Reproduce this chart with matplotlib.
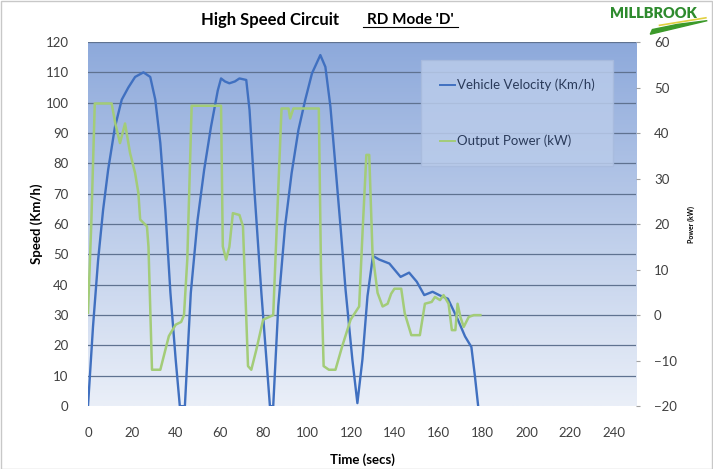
import numpy as np
import matplotlib.pyplot as plt
from matplotlib.lines import Line2D
from matplotlib.patches import Polygon

plt.rcParams['font.family'] = ['Lato', 'DejaVu Sans']

# vehicle velocity (km/h)
vel_t = [0, 2.3, 4.6, 6.9, 9.2, 12.3, 15.4, 18.4, 21.5, 25.3, 28.4, 30.7, 33,
         35.3, 37.6, 40, 41.9, 44.2, 46.9, 50, 53, 56.1, 59.2, 60.7, 62.5,
         64.5, 67, 69.1, 72.2, 73.7, 76, 79.1, 81.4, 83, 84.5, 86.8, 89.9,
         92.9, 96, 99.1, 102.2, 106, 108.3, 110.6, 112.9, 115.2, 117.5, 120.6,
         122.9, 125.2, 127.5, 130, 132.9, 137.5, 142.6, 146.5, 150, 153.4,
         157.2, 160.5, 164.2, 168.8, 172, 174.9, 176.5, 178]
vel_v = [0, 26.3, 48, 64.7, 77.9, 92, 101, 105, 108.5, 110, 108.5, 101, 86.7,
         64.7, 37.4, 15.4, 0, 0, 37.3, 61.4, 77.9, 92, 104, 108, 107,
         106.4, 107, 108, 107.5, 97.6, 70.2, 37.3, 15.4, 0, 0, 32.9, 59.2,
         76.8, 91, 100.9, 109.7, 115.7, 111.8, 98.7, 79, 59.2, 38.4, 15.4,
         1, 15.4, 36.2, 49.5, 48.3, 47, 42.6, 44, 41, 36.6,
         37.7, 36.5, 35.4, 28.4, 23, 19.5, 10, 0]

# output power (kW)
pow_t = [0, 1.5, 3.1, 10.8, 12.5, 14.6, 16.9, 19.2, 21.5, 23, 23.8, 26.9,
         27.6, 29.2, 33, 36.9, 40, 42.5, 43.8, 45.3, 47.3, 60.7, 61.5, 63,
         64.5, 66.1, 69.1, 70.7, 73, 74.5, 76.8, 79.9, 84.5, 86, 88.3, 91.5,
         92.2, 93.7, 105.3, 106.3, 107.5, 109.9, 112.9, 116, 119.8, 123.7,
         125.3, 127, 128.3, 129.8, 132.1, 134.4, 136.7, 138.3, 139.8, 142.9,
         144.5, 147.5, 151.4, 153.7, 156.8, 158.3, 160.6, 162.2, 164.5, 166,
         167.6, 168.6, 169.9, 171.4, 173.7, 176, 179]
pow_p = [0.5, 20, 46.5, 46.5, 42, 37.8, 42.1, 35.6, 31.2, 26.8, 21, 19.5,
         15, -12, -12, -4.6, -2.1, -1.5, 0, 12.2, 46, 46, 15.1, 12.2,
         15, 22.4, 22, 19.5, -11.2, -12, -7.6, -1, 0, 18, 45.4, 45.4,
         43.2, 45.4, 45.4, 10, -11.2, -12, -12, -6.8, -1, 1.9,
         18.7, 35.2, 35.2, 13.6, 4.9, 1.9, 2.5, 4.7, 5.8, 5.8,
         0.4, -4.4, -4.4, 2.5, 2.9, 4, 3.3, 4.4, 2.5, -3.3,
         -3.3, 2.5, -0.4, -2.6, -0.4, 0, 0]

x_ticks = list(range(0, 241, 20))
speed_ticks = list(range(0, 121, 10))
power_ticks = list(range(-20, 61, 10))

fig = plt.figure(figsize=(7.13, 4.69), dpi=100)
ax = fig.add_axes([0.1234, 0.134, 0.7686, 0.7764])
ax2 = ax.twinx()

# gradient background like the Excel plot area
grad = np.linspace(0, 1, 256).reshape(-1, 1, 1)
top = np.array([0x8D, 0xA9, 0xDB]) / 255
bot = np.array([0xEA, 0xEF, 0xF8]) / 255
img = top * (1 - grad) + bot * grad
ax.imshow(img, extent=[0, 250, 0, 120], aspect='auto', zorder=0,
          origin='upper')
ax.set_ylim(0, 120)
ax.set_xlim(0, 250)

for s in speed_ticks[1:]:
    ax.axhline(s, color='#5F7290', lw=0.9, zorder=1)

ax.plot(vel_t, vel_v, color='#4070C0', lw=1.7, zorder=3,
        solid_joinstyle='round')
ax2.plot(pow_t, pow_p, color='#A3CC78', lw=1.8, zorder=3,
         solid_joinstyle='round')
ax2.set_ylim(-20, 60)

ax.set_xticks(x_ticks)
ax.set_yticks(speed_ticks)
ax2.set_yticks(power_ticks)
for a in (ax, ax2):
    for sp in a.spines.values():
        sp.set_visible(False)
ax.tick_params(length=0, labelsize=9.5, labelcolor='#404040')
ax.tick_params(axis='x', pad=15)
ax.tick_params(axis='y', pad=14)
ax2.tick_params(length=3, color='#A0A0A0', labelsize=9.5,
                labelcolor='#404040', pad=10)

ax.set_xlabel('Time (secs)', fontsize=9.5, fontweight='bold', labelpad=10)
ax.set_ylabel('Speed (Km/h)', fontsize=9.5, fontweight='bold', labelpad=2)
ax2.set_ylabel('Power (kW)', fontsize=5, fontweight='bold', labelpad=8)

handles = [Line2D([], [], color='#4070C0', lw=1.4),
           Line2D([], [], color='#A3CC78', lw=1.4)]
leg = ax2.legend(handles, ['Vehicle Velocity (Km/h)', 'Output Power (kW)'],
                 loc='upper left', bbox_to_anchor=(0.608, 0.95),
                 fontsize=9.5, labelspacing=3.3, handlelength=1.2,
                 handletextpad=0.1, borderpad=1.4, fancybox=False,
                 facecolor='#B9CBEA', edgecolor='#A8BBDD', framealpha=0.85,
                 borderaxespad=0)
for txt in leg.get_texts():
    txt.set_color('#2A3A5A')
leg.set_zorder(5)

# titles
fig.text(0.379, 0.957, 'High Speed Circuit', fontsize=12, fontweight='bold',
         ha='center', va='center')
fig.text(0.576, 0.957, "RD Mode 'D'", fontsize=11, fontweight='bold',
         ha='center', va='center')
fig.add_artist(Line2D([0.509, 0.642], [0.943, 0.943], color='black', lw=0.8))

# logo
fig.text(0.917, 0.972, 'MILLBROOK', fontsize=10.5, fontweight='heavy',
         color='#2E8B2E', ha='center', va='center')
fig.add_artist(Polygon([[0.912, 0.927], [0.992, 0.956], [0.95, 0.948],
                        [0.915, 0.937]], closed=True, color='#3C9A2A',
                       transform=fig.transFigure))
fig.add_artist(Line2D([0.925, 0.99], [0.946, 0.962], color='#E0D040', lw=1.2))

fig.add_artist(plt.Rectangle((0.001, 0.001), 0.997, 0.997, fill=False,
                             edgecolor='#C8C8C8', lw=1,
                             transform=fig.transFigure))

fig.savefig('out.png', dpi=100)
